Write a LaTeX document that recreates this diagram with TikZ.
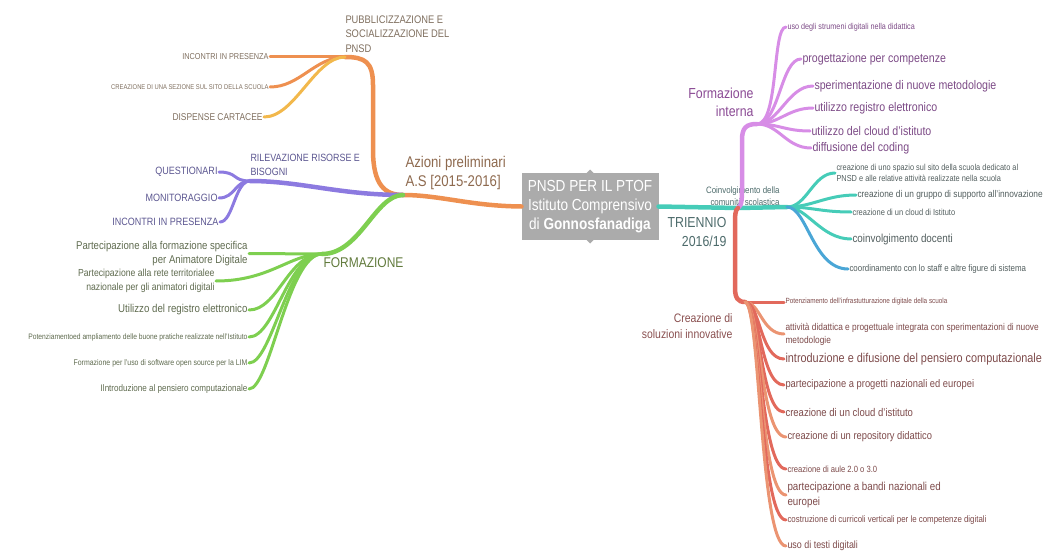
\documentclass[tikz,border=0pt]{standalone}
\usepackage{fontspec}
\setmainfont{Liberation Sans}[FakeStretch=0.85]
\definecolor{cGray}{HTML}{ABABAB}
\definecolor{cOr}{HTML}{EE9050}
\definecolor{cYe}{HTML}{F2B84C}
\definecolor{cPu}{HTML}{8C7AE0}
\definecolor{cGr}{HTML}{7ECF50}
\definecolor{cTe}{HTML}{46CCB8}
\definecolor{cBl}{HTML}{4AA6D6}
\definecolor{cOrc}{HTML}{D78DE6}
\definecolor{cRe}{HTML}{E2695C}
\definecolor{cSa}{HTML}{EB9472}
\definecolor{tBr}{HTML}{8E6A4F}
\definecolor{tOr}{HTML}{7F6F5F}
\definecolor{tPu}{HTML}{5B5690}
\definecolor{tGrH}{HTML}{617A3C}
\definecolor{tGr}{HTML}{5F6B4F}
\definecolor{tOrc}{HTML}{8A4A94}
\definecolor{tOrcC}{HTML}{7C4A86}
\definecolor{tTe}{HTML}{4D6B6B}
\definecolor{tTeC}{HTML}{525E5E}
\definecolor{tRe}{HTML}{8A5050}
\definecolor{tReC}{HTML}{7D4A4A}
\newcommand{\fz}[2]{\fontsize{#1}{#2}\selectfont}
\tikzset{
  every node/.style={inner sep=1.5pt, outer sep=0pt},
  mainbr/.style={line width=4.5pt, line cap=round},
  br/.style={line width=3pt, line cap=round},
  lt/.style={anchor=east, align=right},
  rt/.style={anchor=west, align=left},
}
\begin{document}
\begin{tikzpicture}[x=1pt,y=-1pt]
\useasboundingbox (0,0) rectangle (1051,551);

% hubs
\coordinate (azH) at (403,195);
\coordinate (pbH) at (345,57);
\coordinate (rvH) at (250,181);
\coordinate (fmH) at (322,254);
\coordinate (trH) at (738,208);
\coordinate (fiH) at (757,124);
\coordinate (cvH) at (787,207);
\coordinate (crH) at (745,302);

% central node
\node[fill=cGray, minimum width=137pt, minimum height=67pt, inner sep=0pt, text=white, align=center, font=\fz{16}{19}] (C) at (590,206.5) {PNSD PER IL PTOF\\Istituto Comprensivo\\di \textbf{Gonnosfanadiga}};
\fill[cGray] (C.north) ++(-3.5,0) -- ++(3.5,-3.5) -- ++(3.5,3.5) -- cycle;
\fill[cGray] (C.south) ++(-3.5,0) -- ++(3.5,3.5) -- ++(3.5,-3.5) -- cycle;

% ---------- left side texts
\node[rt, text=tBr, font=\fz{15.5}{19}] (az) at (404,172.5) {Azioni preliminari\\A.S [2015-2016]};
\node[rt, text=tOr, font=\fz{11}{14.5}] (pb) at (344,34) {PUBBLICIZZAZIONE E\\SOCIALIZZAZIONE DEL\\PNSD};
\node[lt, text=tOr, font=\fz{8.6}{10}] (pb1) at (270,57) {INCONTRI IN PRESENZA};
\node[lt, text=tOr, font=\fz{6.9}{8}] (pb2) at (270,87) {CREAZIONE DI UNA SEZIONE SUL SITO DELLA SCUOLA};
\node[lt, text=tOr, font=\fz{9.9}{11}] (pb3) at (264,117) {DISPENSE CARTACEE};

\node[rt, text=tPu, font=\fz{10.5}{14}] (rv) at (249,165) {RILEVAZIONE RISORSE E\\BISOGNI};
\node[lt, text=tPu, font=\fz{10.6}{12}] (rv1) at (219,172) {QUESTIONARI};
\node[lt, text=tPu, font=\fz{10.6}{12}] (rv2) at (219,198) {MONITORAGGIO};
\node[lt, text=tPu, font=\fz{10.6}{12}] (rv3) at (220,222) {INCONTRI IN PRESENZA};

\node[rt, text=tGrH, font=\fz{14.1}{16}] (fm) at (322,263) {FORMAZIONE};
\node[lt, text=tGr, font=\fz{11.3}{14.5}] (g1) at (249,253.5) {Partecipazione alla formazione specifica\\per Animatore Digitale};
\node[lt, text=tGr, font=\fz{10.2}{14.5}] (g2) at (216,281) {Partecipazione alla rete territorialee\\nazionale per gli animatori digitali};
\node[lt, text=tGr, font=\fz{11.4}{13}] (g3) at (249,310) {Utilizzo del registro elettronico};
\node[lt, text=tGr, font=\fz{7.9}{9}] (g4) at (249,337) {Potenziamentoed ampliamento delle buone pratiche realizzate nell'Istituto};
\node[lt, text=tGr, font=\fz{8.2}{9}] (g5) at (249,363) {Formazione per l'uso di software open source per la LIM};
\node[lt, text=tGr, font=\fz{9.5}{11}] (g6) at (249,389) {Ilntroduzione al pensiero computazionale};

% ---------- right side texts
\node[lt, text=tTe, font=\fz{14.5}{19}] (tr) at (728,232) {TRIENNIO\\2016/19};
\node[lt, text=tOrc, font=\fz{14.5}{18.5}] (fi) at (755,102.5) {Formazione\\interna};
\node[rt, text=tOrcC, font=\fz{8.5}{10}] (p1) at (786,27) {uso degli strumeni digitali nella didattica};
\node[rt, text=tOrcC, font=\fz{12.5}{14}] (p2) at (801,59) {progettazione per competenze};
\node[rt, text=tOrcC, font=\fz{12.5}{14}] (p3) at (813,86) {sperimentazione di nuove metodologie};
\node[rt, text=tOrcC, font=\fz{12.5}{14}] (p4) at (813,108) {utilizzo registro elettronico};
\node[rt, text=tOrcC, font=\fz{12.5}{14}] (p5) at (810,131) {utilizzo del cloud d'istituto};
\node[rt, text=tOrcC, font=\fz{12.5}{14}] (p6) at (811,148) {diffusione del coding};

\node[lt, text=tTe, font=\fz{9.3}{12}] (cv) at (781,196) {Coinvolgimento della\\comunità scolastica};
\node[rt, text=tTeC, font=\fz{8.7}{11.5}] (t1) at (835,173) {creazione di uno spazio sul sito della scuola dedicato al\\PNSD e alle relative attività realizzate nella scuola};
\node[rt, text=tTeC, font=\fz{9.8}{11}] (t2) at (856,195) {creazione di un gruppo di supporto all'innovazione};
\node[rt, text=tTeC, font=\fz{8.8}{10}] (t3) at (851,212) {creazione di un cloud di Istituto};
\node[rt, text=tTeC, font=\fz{11.6}{13}] (t4) at (851,239) {coinvolgimento docenti};
\node[rt, text=tTeC, font=\fz{9.3}{11}] (t5) at (848,269) {coordinamento con lo staff e altre figure di sistema};

\node[lt, text=tRe, font=\fz{12.3}{16}] (cr) at (734,326) {Creazione di\\soluzioni innovative};
\node[rt, text=tReC, font=\fz{7.5}{9}] (r1) at (784,302) {Potenziamento dell'infrastutturazione digitale della scuola};
\node[rt, text=tReC, font=\fz{9.8}{13}] (r2) at (784,334) {attività didattica e progettuale integrata con sperimentazioni di nuove\\metodologie};
\node[rt, text=tReC, font=\fz{12.8}{15}] (r3) at (784,359) {introduzione e difusione del pensiero computazionale};
\node[rt, text=tReC, font=\fz{11}{13}] (r4) at (784,385) {partecipazione a progetti nazionali ed europei};
\node[rt, text=tReC, font=\fz{11.2}{13}] (r5) at (784,412) {creazione di un cloud d'istituto};
\node[rt, text=tReC, font=\fz{11}{13}] (r6) at (786,437) {creazione di un repository didattico};
\node[rt, text=tReC, font=\fz{9}{11}] (r7) at (786,469) {creazione di aule 2.0 o 3.0};
\node[rt, text=tReC, font=\fz{11.5}{15}] (r8) at (786,495) {partecipazione a bandi nazionali ed\\europei};
\node[rt, text=tReC, font=\fz{9.3}{11}] (r9) at (786,520) {costruzione di curricoli verticali per le competenze digitali};
\node[rt, text=tReC, font=\fz{10.5}{12}] (r10) at (786,546) {uso di testi digitali};

% ---------- left connectors
\draw[mainbr, cOr] (C.west) .. controls (470,206) and (440,195) .. (azH);
\draw[mainbr, cOr] (azH) .. controls (385,195) and (373,185) .. (373,150) -- (373,85) .. controls (373,62) and (365,57) .. (pbH);
\draw[mainbr, cPu] (azH) .. controls (340,195) and (300,181) .. (rvH);
\draw[mainbr, cGr] (azH) .. controls (375,195) and (360,254) .. (fmH);

\draw[br, cOr] (pbH) -- (pb1.east);
\draw[br, cOr] (pbH) .. controls (315,57) and (300,87) .. (pb2.east);
\draw[br, cYe] (pbH) .. controls (315,57) and (295,117) .. (pb3.east);

\draw[br, cPu] (rvH) .. controls (232,181) and (238,172) .. (rv1.east);
\draw[br, cPu] (rvH) .. controls (235,181) and (235,198) .. (rv2.east);
\draw[br, cPu] (rvH) .. controls (235,181) and (233,222) .. (rv3.east);

\draw[br, cGr] (fmH) -- (g1.east);
\draw[br, cGr] (fmH) .. controls (290,254) and (270,281) .. (g2.east);
\draw[br, cGr] (fmH) .. controls (288,254) and (278,310) .. (g3.east);
\draw[br, cGr] (fmH) .. controls (288,254) and (275,337) .. (g4.east);
\draw[br, cGr] (fmH) .. controls (288,254) and (272,363) .. (g5.east);
\draw[br, cGr] (fmH) .. controls (288,254) and (270,389) .. (g6.east);

% ---------- right connectors
\draw[mainbr, cTe] (C.east) -- (trH);
\draw[mainbr, cTe] (trH) -- (cvH);
\draw[mainbr, cOrc] (trH) .. controls (742,206) and (742,198) .. (742,185) -- (742,140) .. controls (742,128) and (746,124) .. (fiH);
\draw[mainbr, cRe] (trH) .. controls (735,210) and (735,215) .. (735,228) -- (735,288) .. controls (735,298) and (738,302) .. (crH);

\draw[br, cOrc] (fiH) .. controls +(22,0) and +(-14,0) .. (p1.west);
\draw[br, cOrc] (fiH) .. controls +(22,0) and +(-20,0) .. (p2.west);
\draw[br, cOrc] (fiH) .. controls +(22,0) and +(-25,0) .. (p3.west);
\draw[br, cOrc] (fiH) .. controls +(22,0) and +(-25,0) .. (p4.west);
\draw[br, cOrc] (fiH) .. controls +(22,0) and +(-25,0) .. (p5.west);
\draw[br, cOrc] (fiH) .. controls +(22,0) and +(-25,0) .. (p6.west);

\draw[br, cTe] (cvH) .. controls +(20,0) and +(-22,0) .. (t1.west);
\draw[br, cTe] (cvH) .. controls +(25,0) and +(-30,0) .. (t2.west);
\draw[br, cTe] (cvH) .. controls +(25,0) and +(-30,0) .. (t3.west);
\draw[br, cTe] (cvH) .. controls +(20,0) and +(-30,0) .. (t4.west);
\draw[br, cBl] (cvH) .. controls +(20,0) and +(-35,0) .. (t5.west);

\draw[br, cRe] (crH) -- (r1.west);
\draw[br, cSa] (crH) .. controls (760,302) and (762,334) .. (r2.west);
\draw[br, cRe] (crH) .. controls (760,302) and (760,359) .. (r3.west);
\draw[br, cRe] (crH) .. controls (760,302) and (760,385) .. (r4.west);
\draw[br, cRe] (crH) .. controls (760,302) and (760,412) .. (r5.west);
\draw[br, cSa] (crH) .. controls (760,302) and (760,437) .. (r6.west);
\draw[br, cRe] (crH) .. controls (760,302) and (760,469) .. (r7.west);
\draw[br, cSa] (crH) .. controls (760,302) and (760,495) .. (r8.west);
\draw[br, cRe] (crH) .. controls (760,302) and (760,520) .. (r9.west);
\draw[br, cSa] (crH) .. controls (760,302) and (760,546) .. (r10.west);
\end{tikzpicture}
\end{document}
